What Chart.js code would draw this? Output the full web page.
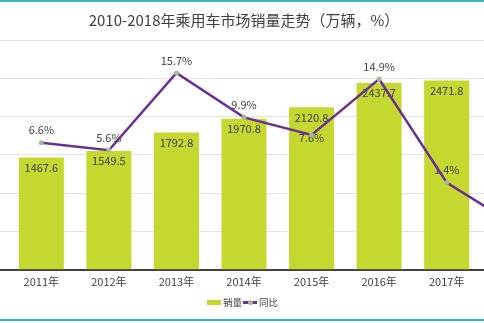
<!DOCTYPE html>
<html>
<head>
<meta charset="utf-8">
<script src="https://cdn.jsdelivr.net/npm/chart.js@4.4.1/dist/chart.umd.min.js"></script>
<style>
  html, body { margin: 0; padding: 0; background: #fff; }
  #wrap { position: relative; width: 484px; height: 323px; overflow: hidden; background: #fff; }
  #c { position: absolute; left: -64px; top: 0; }
  .bar-top { position: absolute; left: 0; top: 0; width: 484px; height: 2px; background: #36b7c4; }
  .bar-bot { position: absolute; left: 0; top: 319px; width: 484px; height: 2px; background: #36b7c4; }
  #legend { position: absolute; top: 295px; left: 207px; height: 14px; display: flex; align-items: center;
            font: 9.5px "Noto Sans CJK SC", sans-serif; color: #404040; white-space: nowrap; }
  .sw-bar { width: 14px; height: 5px; background: #c5d82f; margin-right: 2px; }
  .sw-line { position: relative; width: 14px; height: 3px; background: #6d2f93; margin: 0 2px 0 1px; }
  .sw-line i { position: absolute; left: 4.5px; top: -1px; width: 5px; height: 5px; border-radius: 50%; background: #a7b896; }
</style>
</head>
<body>
<div id="wrap">
  <div class="bar-top"></div>
  <canvas id="c" width="616" height="323"></canvas>
  <div id="legend"><span class="sw-bar"></span><span>销量</span><span class="sw-line"><i></i></span><span>同比</span></div>
  <div class="bar-bot"></div>
</div>
<script>
const titleText = '2010-2018年乘用车市场销量走势（万辆，%）';
const categories = ['2010年', '2011年', '2012年', '2013年', '2014年', '2015年', '2016年', '2017年', '2018年'];
const salesValues = [null, 1467.6, 1549.5, 1792.8, 1970.8, 2120.8, 2437.7, 2471.8, null];
const growthValues = [null, 6.6, 5.6, 15.7, 9.9, 7.6, 14.9, 1.4, -4.1];
const seriesNames = ['销量', '同比'];

const labelFont = '11px "Noto Sans CJK SC", sans-serif';
const labelColor = '#404040';

const labelPlugin = {
  id: 'valueLabels',
  beforeDatasetDraw(chart, args) {
    if (args.index !== 1) return;
    const ctx = chart.ctx;
    ctx.save();
    ctx.font = labelFont;
    ctx.fillStyle = labelColor;
    ctx.textAlign = 'center';
    ctx.textBaseline = 'middle';
    const barMeta = chart.getDatasetMeta(0);
    barMeta.data.forEach((el, i) => {
      const v = salesValues[i];
      if (v == null) return;
      ctx.fillText(v.toFixed(1), el.x, el.y + 10);
    });
    const lineMeta = chart.getDatasetMeta(1);
    lineMeta.data.forEach((el, i) => {
      const v = growthValues[i];
      if (v == null) return;
      const dy = (i === 5) ? 3 : -12.5;
      ctx.fillText(v.toFixed(1) + '%', el.x, el.y + dy);
    });
    ctx.restore();
  }
};

new Chart(document.getElementById('c'), {
  data: {
    labels: categories,
    datasets: [
      {
        type: 'bar',
        label: seriesNames[0],
        data: salesValues,
        backgroundColor: '#c5d82f',
        borderWidth: 0,
        barPercentage: 0.667,
        categoryPercentage: 1.0,
        yAxisID: 'y',
        order: 1
      },
      {
        type: 'line',
        label: seriesNames[1],
        data: growthValues,
        borderColor: '#6d2f93',
        borderWidth: 2.5,
        pointRadius: 2.5,
        pointBackgroundColor: '#a7b896',
        pointBorderWidth: 0,
        tension: 0,
        yAxisID: 'y1',
        order: 0
      }
    ]
  },
  plugins: [labelPlugin],
  options: {
    responsive: false,
    animation: false,
    events: [],
    layout: { padding: { left: 0, right: 0, top: 0, bottom: 30 } },
    plugins: {
      legend: { display: false },
      tooltip: { enabled: false },
      title: {
        display: true,
        text: titleText,
        color: '#404040',
        font: { family: '"Noto Sans CJK SC", sans-serif', size: 15, weight: 'normal' },
        padding: { top: 11, bottom: 11 }
      }
    },
    scales: {
      x: {
        grid: { display: false, drawTicks: false },
        border: { display: true, color: '#404040', width: 2 },
        ticks: { color: '#404040', font: { family: '"Noto Sans CJK SC", sans-serif', size: 11 }, padding: 5, maxRotation: 0, autoSkip: false }
      },
      y: {
        position: 'left',
        min: 0, max: 3000,
        ticks: { display: false, stepSize: 500 },
        grid: { color: '#e3e3e3', lineWidth: 1, drawTicks: false },
        border: { display: false }
      },
      y1: {
        position: 'right',
        min: -10, max: 20,
        display: false,
        ticks: { stepSize: 5 },
        grid: { display: false }
      }
    }
  }
});
</script>
</body>
</html>
